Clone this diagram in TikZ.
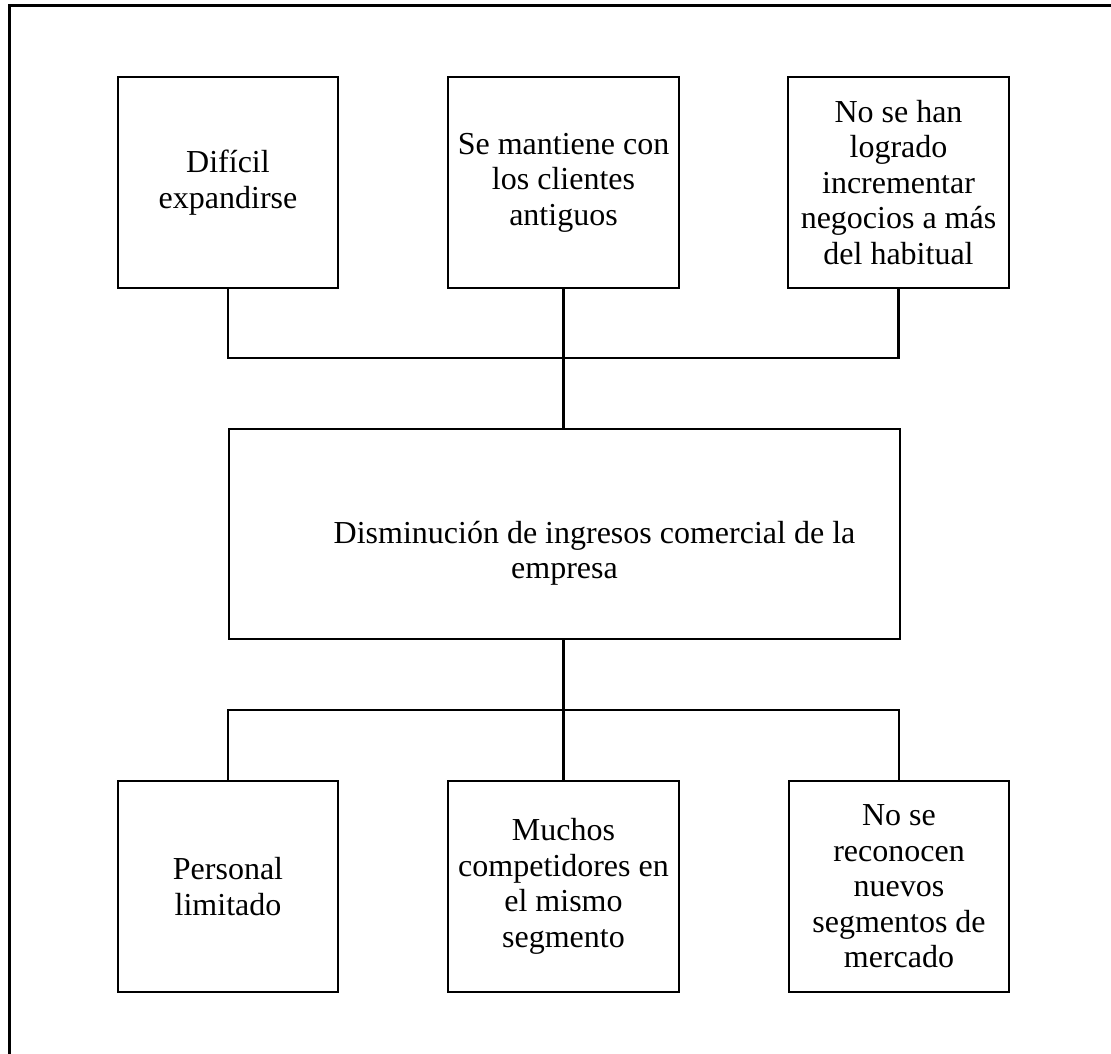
\documentclass[tikz,border=0pt]{standalone}
\usepackage{fontspec}
\setmainfont{Liberation Serif}
\begin{document}
\begin{tikzpicture}[x=1pt,y=-1pt,
  box/.style={draw, line width=2pt, align=center, inner sep=0pt,
    minimum height=211pt, font=\fontsize{32}{35.5}\selectfont},
  link/.style={draw, line width=2.5pt}]
\useasboundingbox (0,0) rectangle (1111,1054);
\draw[line width=3pt] (9,1054) -- (9,6) -- (1111,6);
% top row
\node[box, minimum width=220pt] (t1) at (228,182.5) {Difícil\\expandirse};
\node[box, minimum width=231pt] (t2) at (563.5,182.5) {Se mantiene con\\los clientes\\antiguos};
\node[box, minimum width=221pt] (t3) at (898.5,182.5) {No se han\\logrado\\incrementar\\negocios a más\\del habitual};
% center
\node[box, minimum width=671pt, minimum height=210pt] (c) at (564.5,534)
  {\strut\\\hspace*{60pt}Disminución de ingresos comercial de la\\empresa};
% bottom row
\node[box, minimum width=220pt] (b1) at (228,886.5) {Personal\\limitado};
\node[box, minimum width=231pt] (b2) at (563.5,886.5) {Muchos\\competidores en\\el mismo\\segmento};
\node[box, minimum width=220pt] (b3) at (899,886.5) {No se\\reconocen\\nuevos\\segmentos de\\mercado};
% connectors
\coordinate (jt) at (563.5,358);
\coordinate (jb) at (563.5,710);
\draw[link] (t1.south) |- (jt) -| (t3.south);
\draw[link] (t2.south) -- (t2.south |- c.north);
\draw[link] (b1.north) |- (jb) -| (b3.north);
\draw[link] (b2.north) -- (b2.north |- c.south);
\end{tikzpicture}
\end{document}
